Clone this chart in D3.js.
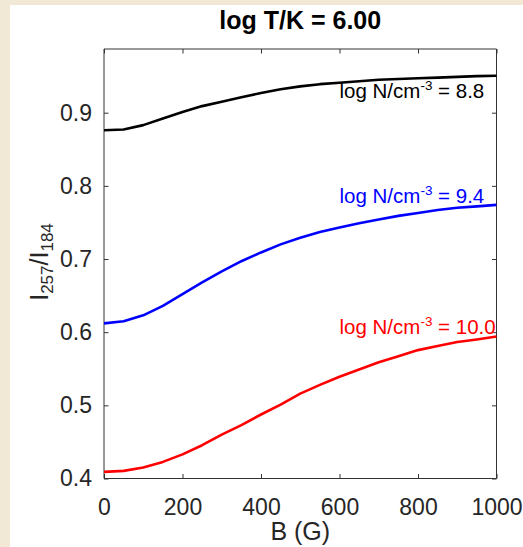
<!DOCTYPE html>
<html>
<head>
<meta charset="utf-8">
<script src="https://cdn.jsdelivr.net/npm/d3@7"></script>
<style>
    body { margin: 0; background: #f1e9d6; }
    svg { display: block; }
    text { font-family: "Liberation Sans", Arial, Helvetica, sans-serif; }
</style>
</head>
<body>
<svg id="chart"></svg>
<script>
// Champ magnétique (G), un point tous les 50 G
const champB = [0, 50, 100, 150, 200, 250, 300, 350, 400, 450, 500,
    550, 600, 650, 700, 750, 800, 850, 900, 950, 1000];

// Rapport I257/I184 pour chaque densité
const ratio88 = [0.876, 0.877, 0.883, 0.892, 0.901, 0.909, 0.915, 0.921, 0.927, 0.932, 0.936,
    0.939, 0.941, 0.943, 0.945, 0.946, 0.947, 0.948, 0.949, 0.950, 0.9505];
const ratio94 = [0.612, 0.615, 0.623, 0.636, 0.652, 0.668, 0.683, 0.697, 0.709, 0.720, 0.729,
    0.737, 0.743, 0.749, 0.754, 0.759, 0.763, 0.767, 0.770, 0.772, 0.774];
const ratio100 = [0.409, 0.4104, 0.415, 0.4227, 0.433, 0.4455, 0.460, 0.473, 0.4875, 0.501, 0.516,
    0.528, 0.539, 0.549, 0.559, 0.567, 0.5755, 0.581, 0.5865, 0.590, 0.594];

const densites = ["8.8", "9.4", "10.0"];
const couleurs = ["black", "blue", "red"];
const labelY = [0.9196, 0.7764, 0.597];   // position verticale des étiquettes
const labelB = 600;

const xTicks = [0, 200, 400, 600, 800, 1000];
const yTicks = [0.4, 0.5, 0.6, 0.7, 0.8, 0.9];

const W = 523, H = 547;
const margin = {
        top: 49,
        right: 26.5,
        bottom: 68.5,
        left: 104
    },
    width = W - margin.left - margin.right,
    height = H - margin.top - margin.bottom;

const svg = d3.select("#chart")
    .attr("width", W)
    .attr("height", H);

// fond beige + panneau blanc
svg.append("rect")
    .attr("width", W).attr("height", H)
    .style("fill", "#f1e9d6");
svg.append("rect")
    .attr("x", 10).attr("y", 5)
    .attr("width", W - 10).attr("height", H - 5)
    .style("fill", "white");

const g = svg.append("g")
    .attr("class", "group")
    .attr("transform", `translate(${margin.left},${margin.top})`);

const x = d3.scaleLinear()
    .domain([0, 1000])
    .range([0, width]);

// 0.4 -> bas du cadre, 0.9 à y=112.7 dans l'image
const yTop = 0.9 + (112.7 - margin.top) / (365.8 / 0.5);
const y = d3.scaleLinear()
    .domain([0.4, yTop])
    .range([height, 0]);

const axisColor = "#333";
const tickLen = 4.5;

// Axes (ticks vers l'intérieur, sur les quatre côtés)
const axeBas = g.append("g")
    .attr("transform", `translate(0,${height})`)
    .call(d3.axisBottom(x).tickValues(xTicks).tickSize(-tickLen).tickPadding(20).tickFormat(d3.format("d")));
const axeHaut = g.append("g")
    .call(d3.axisTop(x).tickValues(xTicks).tickSize(-tickLen).tickFormat(""));
const axeGauche = g.append("g")
    .call(d3.axisLeft(y).tickValues(yTicks).tickSize(-tickLen).tickPadding(12).tickFormat(d3.format(".1f")));
const axeDroit = g.append("g")
    .attr("transform", `translate(${width},0)`)
    .call(d3.axisRight(y).tickValues(yTicks).tickSize(-tickLen).tickFormat(""));

[axeBas, axeHaut, axeGauche, axeDroit].forEach(a => {
    a.select(".domain").attr("stroke", axisColor).attr("stroke-width", 1);
    a.selectAll(".tick line").attr("stroke", axisColor).attr("stroke-width", 1);
    a.selectAll(".tick text")
        .style("font-size", "23px")
        .style("fill", "#262626");
});
// enlever les petits crochets aux extrémités
[axeBas, axeHaut].forEach(a => a.select(".domain").attr("d", `M0,0H${width}`));
[axeGauche, axeDroit].forEach(a => a.select(".domain").attr("d", `M0,0V${height}`));

// Courbes
const series = [ratio88, ratio94, ratio100];
const ligne = d3.line()
    .x((d, i) => x(champB[i]))
    .y(d => y(d));

g.selectAll(".courbe")
    .data(series)
    .enter()
    .append("path")
    .attr("class", "courbe")
    .attr("d", d => ligne(d))
    .style("fill", "none")
    .style("stroke", (d, i) => couleurs[i])
    .style("stroke-width", 2.6)
    .style("stroke-linejoin", "round");

// Étiquettes des densités
densites.forEach((dens, i) => {
    const t = g.append("text")
        .attr("x", x(labelB))
        .attr("y", y(labelY[i]))
        .style("fill", couleurs[i])
        .style("font-size", "20.5px");
    t.append("tspan").text("log N/cm");
    t.append("tspan").attr("dy", -8).style("font-size", "13.5px").text("-3");
    t.append("tspan").attr("dy", 8).text(" = " + dens);
});

// Titre
svg.append("text")
    .attr("x", margin.left + width / 2)
    .attr("y", 29)
    .attr("text-anchor", "middle")
    .style("font-size", "25px")
    .style("font-weight", "bold")
    .text("log T/K = 6.00");

// Titre axe x
svg.append("text")
    .attr("x", margin.left + width / 2)
    .attr("y", 540)
    .attr("text-anchor", "middle")
    .style("font-size", "25px")
    .style("fill", "#262626")
    .text("B (G)");

// Titre axe y
const ty = svg.append("text")
    .attr("transform", "translate(48,262) rotate(-90)")
    .attr("text-anchor", "middle")
    .style("font-size", "25px")
    .style("fill", "#262626");
ty.append("tspan").text("I");
ty.append("tspan").attr("dy", 5).style("font-size", "17px").text("257");
ty.append("tspan").attr("dy", -5).text("/I");
ty.append("tspan").attr("dy", 5).style("font-size", "17px").text("184");
</script>
</body>
</html>
